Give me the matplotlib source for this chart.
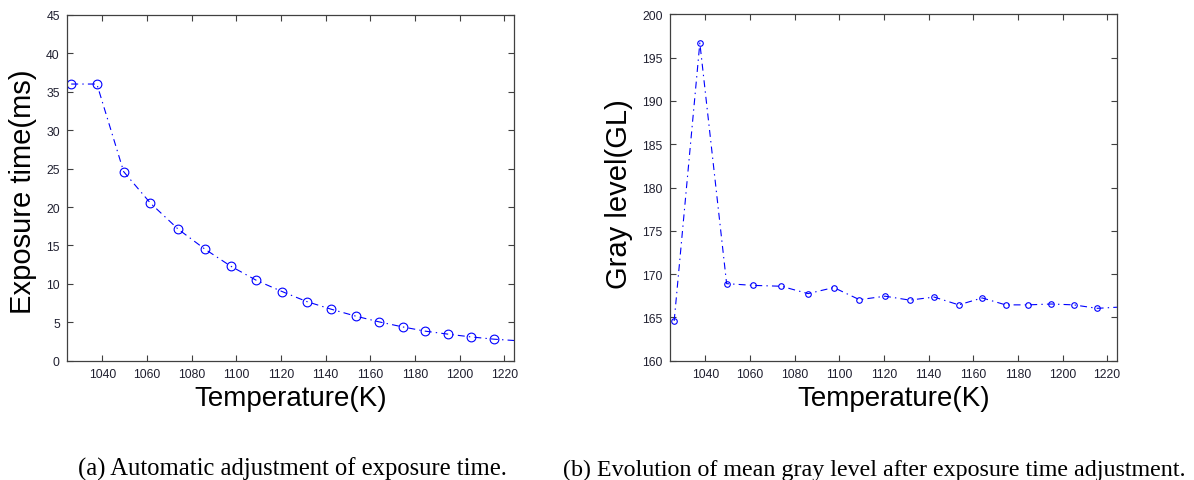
import matplotlib
matplotlib.use("Agg")
import matplotlib.pyplot as plt
import numpy as np

# values
temp_k = [1026, 1037.5, 1049.5, 1061.5, 1074, 1086, 1097.5, 1109, 1120.5,
          1131.5, 1142.5, 1153.5, 1164, 1174.5, 1184.5, 1195, 1205, 1215.5, 1226]
exposure_ms = [36.0, 36.0, 24.6, 20.5, 17.1, 14.5, 12.3, 10.45, 9.0, 7.7,
               6.7, 5.8, 5.05, 4.4, 3.85, 3.45, 3.1, 2.8, 2.6]
gray_gl = [164.6, 196.7, 168.9, 168.7, 168.6, 167.75, 168.45, 167.05, 167.45,
           167.0, 167.35, 166.45, 167.25, 166.45, 166.45, 166.55, 166.45, 166.05, 166.2]

temp_ticks = np.arange(1040, 1221, 20)
exposure_ticks = np.arange(0, 46, 5)
gray_ticks = np.arange(160, 201, 5)

caption_a = "(a) Automatic adjustment of exposure time."
caption_b = "(b) Evolution of mean gray level after exposure time adjustment."

plt.rcParams['font.family'] = ['Liberation Sans', 'DejaVu Sans']
plt.rcParams['lines.scale_dashes'] = False

dashdot = (0, (5, 3, 1, 3))
tick_color = '#202030'


def style_axes(ax, yticks):
    ax.set_xlim(1024, 1224.4)
    ax.set_xticks(temp_ticks)
    ax.set_yticks(yticks)
    ax.set_ylim(yticks[0], yticks[-1])
    ax.tick_params(direction='in', length=4, width=0.8, color='#404040',
                   top=True, right=True, labelsize=8.8, labelcolor=tick_color, pad=5)
    for s in ax.spines.values():
        s.set_color('#404040')
        s.set_linewidth(0.9)
    ax.set_xlabel('Temperature(K)', fontsize=20, labelpad=4)


fig = plt.figure(figsize=(11.94, 4.81), dpi=100)

ax1 = fig.add_axes([0.0559, 0.248, 0.3746, 0.719])
ax1.plot(temp_k, exposure_ms, color='blue', linestyle=dashdot, linewidth=0.8,
         marker='o', markersize=6.3, markerfacecolor='none', markeredgewidth=0.8,
         markevery=slice(0, len(temp_k) - 1))
style_axes(ax1, exposure_ticks)
ax1.set_ylabel('Exposure time(ms)', fontsize=21)
ax1.yaxis.set_label_coords(-0.066, 0.492)

ax2 = fig.add_axes([0.5609, 0.248, 0.3746, 0.720])
ax2.plot(temp_k, gray_gl, color='blue', linestyle=dashdot, linewidth=0.8,
         marker='o', markersize=4, markerfacecolor='none', markeredgewidth=0.8,
         markevery=slice(0, len(temp_k) - 1))
style_axes(ax2, gray_ticks)
ax2.set_ylabel('Gray level(GL)', fontsize=21)
ax2.yaxis.set_label_coords(-0.082, 0.484)

fig.text(0.245, 0.0104, caption_a, family=['Liberation Serif', 'DejaVu Serif'],
         fontsize=17.7, ha='center', va='baseline')
fig.text(0.7325, 0.0104, caption_b, family=['Liberation Serif', 'DejaVu Serif'],
         fontsize=17.3, ha='center', va='baseline')

fig.savefig('out.png', dpi=100)
